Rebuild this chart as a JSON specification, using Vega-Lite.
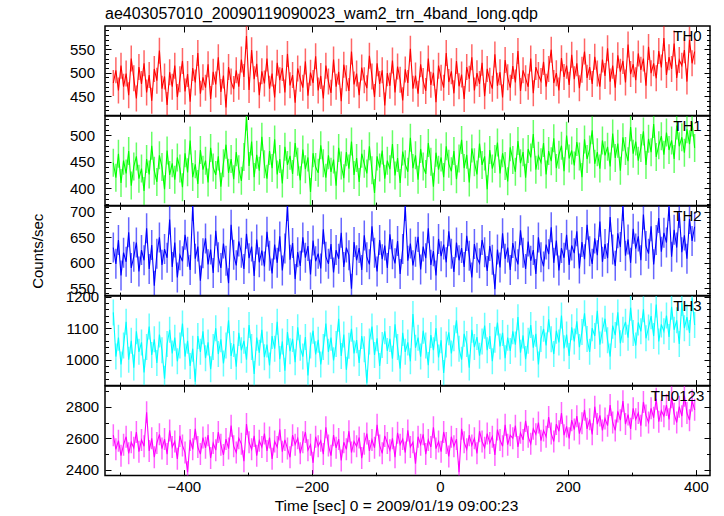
{
"$schema": "https://vega.github.io/schema/vega-lite/v6.json",
"background": "white",
"padding": {"left": 30, "top": 5, "right": 5, "bottom": 0},
"spacing": 0,
"bounds": "flush",
"data": {"values": [
{"t":-510,"a":478,"b":448,"c":630,"d":1150,"e":2620},
{"t":-506,"a":505,"b":420,"c":598,"d":1010,"e":2530},
{"t":-502,"a":462,"b":465,"c":645,"d":1070,"e":2585},
{"t":-498,"a":515,"b":410,"c":575,"d":985,"e":2490},
{"t":-494,"a":470,"b":452,"c":620,"d":1045,"e":2560},
{"t":-490,"a":498,"b":428,"c":602,"d":1120,"e":2610},
{"t":-486,"a":452,"b":470,"c":660,"d":1000,"e":2505},
{"t":-482,"a":530,"b":405,"c":590,"d":1060,"e":2575},
{"t":-478,"a":488,"b":441,"c":612,"d":975,"e":2540},
{"t":-474,"a":445,"b":460,"c":640,"d":1090,"e":2640},
{"t":-470,"a":512,"b":418,"c":583,"d":1025,"e":2515},
{"t":-466,"a":476,"b":437,"c":625,"d":1055,"e":2590},
{"t":-462,"a":520,"b":395,"c":605,"d":960,"e":2550},
{"t":-458,"a":458,"b":455,"c":668,"d":1040,"e":2765},
{"t":-454,"a":495,"b":426,"c":588,"d":1105,"e":2520},
{"t":-450,"a":440,"b":480,"c":635,"d":1015,"e":2600},
{"t":-446,"a":508,"b":433,"c":555,"d":1065,"e":2480},
{"t":-442,"a":483,"b":412,"c":618,"d":990,"e":2570},
{"t":-438,"a":547,"b":462,"c":650,"d":1080,"e":2625},
{"t":-434,"a":466,"b":440,"c":596,"d":1030,"e":2535},
{"t":-430,"a":492,"b":398,"c":627,"d":940,"e":2595},
{"t":-426,"a":431,"b":471,"c":610,"d":1050,"e":2500},
{"t":-422,"a":501,"b":425,"c":685,"d":1095,"e":2650},
{"t":-418,"a":470,"b":447,"c":592,"d":1020,"e":2545},
{"t":-414,"a":515,"b":416,"c":640,"d":1070,"e":2580},
{"t":-410,"a":448,"b":458,"c":571,"d":995,"e":2470},
{"t":-406,"a":486,"b":437,"c":615,"d":1045,"e":2615},
{"t":-402,"a":525,"b":402,"c":603,"d":1115,"e":2555},
{"t":-398,"a":460,"b":466,"c":655,"d":1010,"e":2510},
{"t":-394,"a":497,"b":430,"c":622,"d":1060,"e":2385},
{"t":-390,"a":438,"b":490,"c":586,"d":980,"e":2590},
{"t":-386,"a":510,"b":421,"c":712,"d":1035,"e":2530},
{"t":-382,"a":479,"b":445,"c":608,"d":930,"e":2660},
{"t":-378,"a":542,"b":408,"c":632,"d":1075,"e":2545},
{"t":-374,"a":455,"b":472,"c":565,"d":1025,"e":2500},
{"t":-370,"a":490,"b":435,"c":619,"d":1090,"e":2605},
{"t":-366,"a":468,"b":452,"c":648,"d":1005,"e":2540},
{"t":-362,"a":518,"b":411,"c":597,"d":1055,"e":2620},
{"t":-358,"a":444,"b":476,"c":626,"d":970,"e":2475},
{"t":-354,"a":502,"b":439,"c":580,"d":1040,"e":2570},
{"t":-350,"a":475,"b":425,"c":663,"d":1100,"e":2525},
{"t":-346,"a":533,"b":460,"c":611,"d":1018,"e":2640},
{"t":-342,"a":459,"b":403,"c":590,"d":1065,"e":2560},
{"t":-338,"a":494,"b":447,"c":638,"d":988,"e":2495},
{"t":-334,"a":426,"b":482,"c":604,"d":1045,"e":2595},
{"t":-330,"a":512,"b":429,"c":560,"d":1125,"e":2535},
{"t":-326,"a":481,"b":455,"c":675,"d":1012,"e":2680},
{"t":-322,"a":465,"b":417,"c":616,"d":1050,"e":2550},
{"t":-318,"a":505,"b":468,"c":595,"d":978,"e":2510},
{"t":-314,"a":470,"b":436,"c":642,"d":1085,"e":2600},
{"t":-310,"a":528,"b":414,"c":620,"d":1030,"e":2565},
{"t":-306,"a":491,"b":459,"c":588,"d":1060,"e":2455},
{"t":-302,"a":578,"b":535,"c":657,"d":1000,"e":2690},
{"t":-298,"a":463,"b":442,"c":609,"d":1110,"e":2575},
{"t":-294,"a":548,"b":488,"c":632,"d":1040,"e":2530},
{"t":-290,"a":486,"b":421,"c":574,"d":955,"e":2615},
{"t":-286,"a":519,"b":463,"c":646,"d":1070,"e":2490},
{"t":-282,"a":452,"b":433,"c":601,"d":1022,"e":2585},
{"t":-278,"a":503,"b":497,"c":624,"d":1095,"e":2545},
{"t":-274,"a":477,"b":445,"c":593,"d":1008,"e":2630},
{"t":-270,"a":530,"b":418,"c":661,"d":1048,"e":2520},
{"t":-266,"a":466,"b":470,"c":614,"d":982,"e":2605},
{"t":-262,"a":498,"b":438,"c":579,"d":1075,"e":2470},
{"t":-258,"a":447,"b":492,"c":636,"d":1035,"e":2580},
{"t":-254,"a":521,"b":426,"c":600,"d":1120,"e":2545},
{"t":-250,"a":484,"b":455,"c":652,"d":1002,"e":2655},
{"t":-246,"a":510,"b":409,"c":585,"d":1058,"e":2515},
{"t":-242,"a":458,"b":478,"c":628,"d":965,"e":2590},
{"t":-238,"a":540,"b":444,"c":712,"d":1088,"e":2535},
{"t":-234,"a":473,"b":461,"c":606,"d":1027,"e":2480},
{"t":-230,"a":495,"b":427,"c":639,"d":1066,"e":2620},
{"t":-226,"a":436,"b":485,"c":568,"d":992,"e":2560},
{"t":-222,"a":509,"b":450,"c":621,"d":1103,"e":2600},
{"t":-218,"a":487,"b":415,"c":594,"d":1038,"e":2505},
{"t":-214,"a":468,"b":473,"c":650,"d":1010,"e":2575},
{"t":-210,"a":524,"b":436,"c":610,"d":1072,"e":2640},
{"t":-206,"a":451,"b":458,"c":633,"d":950,"e":2525},
{"t":-202,"a":500,"b":393,"c":577,"d":1045,"e":2560},
{"t":-198,"a":478,"b":466,"c":644,"d":1092,"e":2445},
{"t":-194,"a":535,"b":440,"c":603,"d":1017,"e":2610},
{"t":-190,"a":462,"b":429,"c":618,"d":1063,"e":2550},
{"t":-186,"a":493,"b":481,"c":589,"d":985,"e":2585},
{"t":-182,"a":445,"b":447,"c":666,"d":1040,"e":2500},
{"t":-178,"a":515,"b":420,"c":612,"d":1115,"e":2670},
{"t":-174,"a":481,"b":462,"c":598,"d":1025,"e":2555},
{"t":-170,"a":457,"b":431,"c":637,"d":1070,"e":2490},
{"t":-166,"a":528,"b":454,"c":581,"d":998,"e":2620},
{"t":-162,"a":470,"b":405,"c":625,"d":1050,"e":2540},
{"t":-158,"a":502,"b":476,"c":608,"d":1130,"e":2595},
{"t":-154,"a":439,"b":443,"c":659,"d":1012,"e":2460},
{"t":-150,"a":517,"b":419,"c":592,"d":1080,"e":2575},
{"t":-146,"a":488,"b":468,"c":630,"d":968,"e":2530},
{"t":-142,"a":461,"b":437,"c":615,"d":1044,"e":2645},
{"t":-138,"a":545,"b":488,"c":549,"d":1098,"e":2510},
{"t":-134,"a":475,"b":425,"c":641,"d":1020,"e":2580},
{"t":-130,"a":498,"b":457,"c":605,"d":1062,"e":2550},
{"t":-126,"a":452,"b":412,"c":629,"d":990,"e":2605},
{"t":-122,"a":511,"b":465,"c":586,"d":1075,"e":2475},
{"t":-118,"a":484,"b":446,"c":654,"d":1033,"e":2565},
{"t":-114,"a":467,"b":428,"c":611,"d":927,"e":2630},
{"t":-110,"a":536,"b":479,"c":597,"d":1058,"e":2520},
{"t":-106,"a":492,"b":434,"c":672,"d":1105,"e":2590},
{"t":-102,"a":448,"b":391,"c":620,"d":1015,"e":2540},
{"t":-98,"a":520,"b":460,"c":583,"d":1068,"e":2685},
{"t":-94,"a":476,"b":439,"c":645,"d":980,"e":2555},
{"t":-90,"a":505,"b":471,"c":607,"d":1047,"e":2505},
{"t":-86,"a":430,"b":418,"c":634,"d":1090,"e":2615},
{"t":-82,"a":499,"b":452,"c":590,"d":1028,"e":2570},
{"t":-78,"a":472,"b":436,"c":656,"d":1066,"e":2525},
{"t":-74,"a":526,"b":483,"c":617,"d":1003,"e":2600},
{"t":-70,"a":458,"b":424,"c":599,"d":1112,"e":2480},
{"t":-66,"a":513,"b":457,"c":643,"d":1040,"e":2635},
{"t":-62,"a":485,"b":410,"c":578,"d":972,"e":2560},
{"t":-58,"a":441,"b":469,"c":627,"d":1085,"e":2595},
{"t":-54,"a":507,"b":445,"c":712,"d":1025,"e":2510},
{"t":-50,"a":478,"b":431,"c":604,"d":1055,"e":2650},
{"t":-46,"a":551,"b":495,"c":638,"d":995,"e":2545},
{"t":-42,"a":466,"b":438,"c":595,"d":1145,"e":2575},
{"t":-38,"a":494,"b":462,"c":622,"d":1038,"e":2440},
{"t":-34,"a":455,"b":416,"c":651,"d":1070,"e":2610},
{"t":-30,"a":518,"b":474,"c":587,"d":1010,"e":2560},
{"t":-26,"a":482,"b":441,"c":632,"d":1092,"e":2625},
{"t":-22,"a":461,"b":427,"c":609,"d":1045,"e":2500},
{"t":-18,"a":530,"b":485,"c":668,"d":983,"e":2590},
{"t":-14,"a":474,"b":450,"c":596,"d":1078,"e":2545},
{"t":-10,"a":500,"b":403,"c":623,"d":1030,"e":2670},
{"t":-6,"a":437,"b":467,"c":575,"d":1100,"e":2535},
{"t":-2,"a":515,"b":435,"c":647,"d":1007,"e":2580},
{"t":2,"a":489,"b":458,"c":613,"d":1062,"e":2515},
{"t":6,"a":468,"b":421,"c":636,"d":958,"e":2640},
{"t":10,"a":542,"b":479,"c":601,"d":1048,"e":2570},
{"t":14,"a":480,"b":446,"c":662,"d":1087,"e":2485},
{"t":18,"a":503,"b":432,"c":618,"d":1020,"e":2610},
{"t":22,"a":456,"b":470,"c":582,"d":1068,"e":2550},
{"t":26,"a":525,"b":417,"c":640,"d":1125,"e":2595},
{"t":30,"a":471,"b":456,"c":605,"d":1035,"e":2385},
{"t":34,"a":496,"b":491,"c":629,"d":1000,"e":2660},
{"t":38,"a":444,"b":438,"c":592,"d":1082,"e":2575},
{"t":42,"a":512,"b":463,"c":653,"d":1050,"e":2530},
{"t":46,"a":487,"b":411,"c":614,"d":975,"e":2620},
{"t":50,"a":533,"b":475,"c":571,"d":1095,"e":2555},
{"t":54,"a":462,"b":449,"c":637,"d":1040,"e":2600},
{"t":58,"a":499,"b":426,"c":610,"d":1072,"e":2505},
{"t":62,"a":476,"b":484,"c":599,"d":1013,"e":2645},
{"t":66,"a":521,"b":444,"c":645,"d":1058,"e":2580},
{"t":70,"a":450,"b":460,"c":621,"d":1108,"e":2540},
{"t":74,"a":508,"b":398,"c":584,"d":1030,"e":2630},
{"t":78,"a":483,"b":472,"c":633,"d":1075,"e":2570},
{"t":82,"a":466,"b":437,"c":606,"d":995,"e":2610},
{"t":86,"a":539,"b":455,"c":548,"d":1063,"e":2495},
{"t":90,"a":472,"b":486,"c":626,"d":1118,"e":2655},
{"t":94,"a":501,"b":428,"c":591,"d":1042,"e":2590},
{"t":98,"a":447,"b":466,"c":658,"d":1085,"e":2550},
{"t":102,"a":527,"b":442,"c":608,"d":1005,"e":2685},
{"t":106,"a":490,"b":413,"c":630,"d":1070,"e":2560},
{"t":110,"a":468,"b":477,"c":586,"d":1028,"e":2620},
{"t":114,"a":514,"b":453,"c":639,"d":1090,"e":2600},
{"t":118,"a":479,"b":431,"c":613,"d":1048,"e":2680},
{"t":122,"a":546,"b":489,"c":597,"d":1135,"e":2545},
{"t":126,"a":461,"b":447,"c":664,"d":1022,"e":2635},
{"t":130,"a":505,"b":468,"c":620,"d":1077,"e":2590},
{"t":134,"a":488,"b":420,"c":588,"d":1002,"e":2710},
{"t":138,"a":470,"b":474,"c":642,"d":1060,"e":2610},
{"t":142,"a":530,"b":458,"c":604,"d":1110,"e":2565},
{"t":146,"a":456,"b":502,"c":625,"d":1038,"e":2660},
{"t":150,"a":512,"b":435,"c":578,"d":1082,"e":2625},
{"t":154,"a":495,"b":461,"c":650,"d":985,"e":2700},
{"t":158,"a":482,"b":449,"c":611,"d":1066,"e":2585},
{"t":162,"a":523,"b":485,"c":593,"d":1098,"e":2650},
{"t":166,"a":470,"b":426,"c":636,"d":1045,"e":2610},
{"t":170,"a":508,"b":470,"c":617,"d":1128,"e":2735},
{"t":174,"a":549,"b":451,"c":670,"d":1065,"e":2630},
{"t":178,"a":478,"b":494,"c":600,"d":1018,"e":2580},
{"t":182,"a":499,"b":438,"c":644,"d":1092,"e":2690},
{"t":186,"a":462,"b":463,"c":585,"d":1055,"e":2645},
{"t":190,"a":531,"b":480,"c":629,"d":1140,"e":2760},
{"t":194,"a":491,"b":432,"c":610,"d":1036,"e":2620},
{"t":198,"a":515,"b":499,"c":655,"d":1080,"e":2675},
{"t":202,"a":474,"b":456,"c":596,"d":1012,"e":2600},
{"t":206,"a":538,"b":471,"c":634,"d":1103,"e":2715},
{"t":210,"a":486,"b":443,"c":619,"d":1058,"e":2655},
{"t":214,"a":520,"b":487,"c":662,"d":1122,"e":2740},
{"t":218,"a":467,"b":460,"c":589,"d":1040,"e":2630},
{"t":222,"a":506,"b":421,"c":641,"d":1088,"e":2695},
{"t":226,"a":545,"b":492,"c":607,"d":1147,"e":2780},
{"t":230,"a":489,"b":455,"c":675,"d":1066,"e":2660},
{"t":234,"a":512,"b":473,"c":623,"d":1025,"e":2720},
{"t":238,"a":476,"b":509,"c":598,"d":1100,"e":2625},
{"t":242,"a":534,"b":446,"c":648,"d":1075,"e":2800},
{"t":246,"a":498,"b":468,"c":615,"d":1155,"e":2690},
{"t":250,"a":470,"b":437,"c":681,"d":1048,"e":2745},
{"t":254,"a":528,"b":490,"c":602,"d":1093,"e":2650},
{"t":258,"a":493,"b":462,"c":637,"d":1130,"e":2725},
{"t":262,"a":552,"b":478,"c":609,"d":1062,"e":2680},
{"t":266,"a":481,"b":441,"c":690,"d":1010,"e":2810},
{"t":270,"a":515,"b":503,"c":626,"d":1108,"e":2700},
{"t":274,"a":468,"b":457,"c":594,"d":1078,"e":2650},
{"t":278,"a":537,"b":484,"c":658,"d":1150,"e":2770},
{"t":282,"a":502,"b":433,"c":631,"d":1052,"e":2715},
{"t":286,"a":525,"b":496,"c":712,"d":1095,"e":2835},
{"t":290,"a":479,"b":470,"c":614,"d":1120,"e":2690},
{"t":294,"a":560,"b":451,"c":646,"d":1070,"e":2750},
{"t":298,"a":497,"b":515,"c":600,"d":1165,"e":2660},
{"t":302,"a":518,"b":465,"c":667,"d":1085,"e":2790},
{"t":306,"a":484,"b":488,"c":628,"d":1045,"e":2720},
{"t":310,"a":541,"b":452,"c":652,"d":1118,"e":2760},
{"t":314,"a":506,"b":476,"c":605,"d":1090,"e":2680},
{"t":318,"a":530,"b":507,"c":695,"d":1160,"e":2830},
{"t":322,"a":472,"b":444,"c":633,"d":1068,"e":2745},
{"t":326,"a":555,"b":493,"c":618,"d":1102,"e":2700},
{"t":330,"a":499,"b":468,"c":672,"d":1138,"e":2790},
{"t":334,"a":520,"b":521,"c":597,"d":1075,"e":2730},
{"t":338,"a":488,"b":459,"c":645,"d":1175,"e":2850},
{"t":342,"a":546,"b":481,"c":688,"d":1058,"e":2705},
{"t":346,"a":511,"b":498,"c":622,"d":1112,"e":2775},
{"t":350,"a":574,"b":463,"c":659,"d":1090,"e":2740},
{"t":354,"a":495,"b":505,"c":640,"d":1140,"e":2810},
{"t":358,"a":533,"b":472,"c":712,"d":1072,"e":2720},
{"t":362,"a":508,"b":490,"c":612,"d":1168,"e":2860},
{"t":366,"a":562,"b":455,"c":665,"d":1095,"e":2755},
{"t":370,"a":489,"b":518,"c":630,"d":1125,"e":2700},
{"t":374,"a":527,"b":479,"c":698,"d":1050,"e":2800},
{"t":378,"a":515,"b":496,"c":621,"d":1180,"e":2740},
{"t":382,"a":548,"b":467,"c":654,"d":1100,"e":2870},
{"t":386,"a":481,"b":511,"c":608,"d":1135,"e":2760},
{"t":390,"a":570,"b":483,"c":686,"d":1085,"e":2715},
{"t":394,"a":520,"b":524,"c":643,"d":1195,"e":2840},
{"t":398,"a":545,"b":476,"c":671,"d":1110,"e":2780}
]},
"vconcat": [
{
 "width": 605, "height": 89.6,
 "title": {"text": "ae403057010_20090119090023_wam2_trn_4band_long.qdp", "anchor": "start", "frame": "group", "font": "Liberation Sans", "fontSize": 16, "fontWeight": "normal", "color": "black", "baseline": "alphabetic", "offset": -12},
 "layer": [
  {"mark": {"type": "tick", "orient": "vertical", "size": 26, "thickness": 1.5, "color": "#ff0000", "opacity": 0.6, "clip": true},
   "encoding": {"x": {"field": "t", "type": "quantitative", "axis": null}, "y": {"field": "a", "type": "quantitative", "axis": null}}},
  {"mark": {"type": "line", "color": "#ff0000", "strokeWidth": 1.1, "clip": true},
   "encoding": {
    "x": {"field": "t", "type": "quantitative", "scale": {"domain": [-523, 422], "nice": false, "zero": false},
          "axis": {"orient": "bottom", "values": [-500,-400,-300,-200,-100,0,100,200,300,400], "labels": false, "title": null, "tickSize": {"condition": {"test": "datum.value % 200 === 0", "value": -6}, "value": -3.5}}},
    "y": {"field": "a", "type": "quantitative", "scale": {"domain": [408.5, 599.5], "nice": false, "zero": false},
          "axis": {"orient": "left", "values": [410,420,430,440,450,460,470,480,490,500,510,520,530,540,550,560,570,580,590], "format": "d", "labelExpr": "datum.value % 50 === 0 ? datum.label : ''", "labelAlign": "center", "labelPadding": 29, "title": null, "tickSize": {"condition": {"test": "datum.value % 50 === 0", "value": -6}, "value": -3.5}}}
   }},
  {"data": {"values": [{"name": "TH0"}]},
   "mark": {"type": "text", "align": "right", "baseline": "alphabetic", "font": "Liberation Sans", "fontSize": 15, "color": "black"},
   "encoding": {
    "text": {"field": "name"},
    "x": {"datum": 409, "type": "quantitative", "axis": {"orient": "top", "values": [-500,-400,-300,-200,-100,0,100,200,300,400], "labels": false, "title": null, "tickSize": {"condition": {"test": "datum.value % 200 === 0", "value": -6}, "value": -3.5}}},
    "y": {"datum": 567, "type": "quantitative", "axis": {"orient": "right", "values": [410,420,430,440,450,460,470,480,490,500,510,520,530,540,550,560,570,580,590], "labels": false, "title": null, "tickSize": {"condition": {"test": "datum.value % 50 === 0", "value": -6}, "value": -3.5}}}
   }}
 ],
 "resolve": {"axis": {"x": "independent", "y": "independent"}}
},
{
 "width": 605, "height": 89.6,
 "layer": [
  {"mark": {"type": "tick", "orient": "vertical", "size": 28, "thickness": 1.5, "color": "#00ff00", "opacity": 0.6, "clip": true},
   "encoding": {"x": {"field": "t", "type": "quantitative", "axis": null}, "y": {"field": "b", "type": "quantitative", "axis": null}}},
  {"mark": {"type": "line", "color": "#00ff00", "strokeWidth": 1.1, "clip": true},
   "encoding": {
    "x": {"field": "t", "type": "quantitative", "scale": {"domain": [-523, 422], "nice": false, "zero": false},
          "axis": {"orient": "bottom", "values": [-500,-400,-300,-200,-100,0,100,200,300,400], "labels": false, "title": null, "tickSize": {"condition": {"test": "datum.value % 200 === 0", "value": -6}, "value": -3.5}}},
    "y": {"field": "b", "type": "quantitative", "scale": {"domain": [367.4, 536], "nice": false, "zero": false},
          "axis": {"orient": "left", "values": [370,380,390,400,410,420,430,440,450,460,470,480,490,500,510,520,530], "format": "d", "labelExpr": "datum.value % 50 === 0 ? datum.label : ''", "labelAlign": "center", "labelPadding": 29, "title": null, "tickSize": {"condition": {"test": "datum.value % 50 === 0", "value": -6}, "value": -3.5}}}
   }},
  {"data": {"values": [{"name": "TH1"}]},
   "mark": {"type": "text", "align": "right", "baseline": "alphabetic", "font": "Liberation Sans", "fontSize": 15, "color": "black"},
   "encoding": {
    "text": {"field": "name"},
    "x": {"datum": 409, "type": "quantitative", "axis": {"orient": "top", "values": [-500,-400,-300,-200,-100,0,100,200,300,400], "labels": false, "title": null, "tickSize": {"condition": {"test": "datum.value % 200 === 0", "value": -6}, "value": -3.5}}},
    "y": {"datum": 507, "type": "quantitative", "axis": {"orient": "right", "values": [370,380,390,400,410,420,430,440,450,460,470,480,490,500,510,520,530], "labels": false, "title": null, "tickSize": {"condition": {"test": "datum.value % 50 === 0", "value": -6}, "value": -3.5}}}
   }}
 ],
 "resolve": {"axis": {"x": "independent", "y": "independent"}}
},
{
 "width": 605, "height": 89.6,
 "layer": [
  {"mark": {"type": "tick", "orient": "vertical", "size": 30, "thickness": 1.5, "color": "#0000ff", "opacity": 0.6, "clip": true},
   "encoding": {"x": {"field": "t", "type": "quantitative", "axis": null}, "y": {"field": "c", "type": "quantitative", "axis": null}}},
  {"mark": {"type": "line", "color": "#0000ff", "strokeWidth": 1.1, "clip": true},
   "encoding": {
    "x": {"field": "t", "type": "quantitative", "scale": {"domain": [-523, 422], "nice": false, "zero": false},
          "axis": {"orient": "bottom", "values": [-500,-400,-300,-200,-100,0,100,200,300,400], "labels": false, "title": null, "tickSize": {"condition": {"test": "datum.value % 200 === 0", "value": -6}, "value": -3.5}}},
    "y": {"field": "c", "type": "quantitative", "scale": {"domain": [535.5, 711.8], "nice": false, "zero": false},
          "axis": {"orient": "left", "values": [540,550,560,570,580,590,600,610,620,630,640,650,660,670,680,690,700,710], "format": "d", "labelExpr": "datum.value % 50 === 0 ? datum.label : ''", "labelAlign": "center", "labelPadding": 29, "title": "Counts/sec", "titleFont": "Liberation Sans", "titleFontSize": 15, "titleFontWeight": "normal", "titleColor": "black", "titlePadding": 23.7, "tickSize": {"condition": {"test": "datum.value % 50 === 0", "value": -6}, "value": -3.5}}}
   }},
  {"data": {"values": [{"name": "TH2"}]},
   "mark": {"type": "text", "align": "right", "baseline": "alphabetic", "font": "Liberation Sans", "fontSize": 15, "color": "black"},
   "encoding": {
    "text": {"field": "name"},
    "x": {"datum": 409, "type": "quantitative", "axis": {"orient": "top", "values": [-500,-400,-300,-200,-100,0,100,200,300,400], "labels": false, "title": null, "tickSize": {"condition": {"test": "datum.value % 200 === 0", "value": -6}, "value": -3.5}}},
    "y": {"datum": 681.5, "type": "quantitative", "axis": {"orient": "right", "values": [540,550,560,570,580,590,600,610,620,630,640,650,660,670,680,690,700,710], "labels": false, "title": null, "tickSize": {"condition": {"test": "datum.value % 50 === 0", "value": -6}, "value": -3.5}}}
   }}
 ],
 "resolve": {"axis": {"x": "independent", "y": "independent"}}
},
{
 "width": 605, "height": 89.6,
 "layer": [
  {"mark": {"type": "tick", "orient": "vertical", "size": 26, "thickness": 1.5, "color": "#00ffff", "opacity": 0.6, "clip": true},
   "encoding": {"x": {"field": "t", "type": "quantitative", "axis": null}, "y": {"field": "d", "type": "quantitative", "axis": null}}},
  {"mark": {"type": "line", "color": "#00ffff", "strokeWidth": 1.1, "clip": true},
   "encoding": {
    "x": {"field": "t", "type": "quantitative", "scale": {"domain": [-523, 422], "nice": false, "zero": false},
          "axis": {"orient": "bottom", "values": [-500,-400,-300,-200,-100,0,100,200,300,400], "labels": false, "title": null, "tickSize": {"condition": {"test": "datum.value % 200 === 0", "value": -6}, "value": -3.5}}},
    "y": {"field": "d", "type": "quantitative", "scale": {"domain": [918, 1202], "nice": false, "zero": false},
          "axis": {"orient": "left", "values": [920,940,960,980,1000,1020,1040,1060,1080,1100,1120,1140,1160,1180,1200], "format": "d", "labelExpr": "datum.value % 100 === 0 ? datum.label : ''", "labelAlign": "center", "labelPadding": 29, "title": null, "tickSize": {"condition": {"test": "datum.value % 100 === 0", "value": -6}, "value": -3.5}}}
   }},
  {"data": {"values": [{"name": "TH3"}]},
   "mark": {"type": "text", "align": "right", "baseline": "alphabetic", "font": "Liberation Sans", "fontSize": 15, "color": "black"},
   "encoding": {
    "text": {"field": "name"},
    "x": {"datum": 409, "type": "quantitative", "axis": {"orient": "top", "values": [-500,-400,-300,-200,-100,0,100,200,300,400], "labels": false, "title": null, "tickSize": {"condition": {"test": "datum.value % 200 === 0", "value": -6}, "value": -3.5}}},
    "y": {"datum": 1153, "type": "quantitative", "axis": {"orient": "right", "values": [920,940,960,980,1000,1020,1040,1060,1080,1100,1120,1140,1160,1180,1200], "labels": false, "title": null, "tickSize": {"condition": {"test": "datum.value % 100 === 0", "value": -6}, "value": -3.5}}}
   }}
 ],
 "resolve": {"axis": {"x": "independent", "y": "independent"}}
},
{
 "width": 605, "height": 89.6,
 "layer": [
  {"mark": {"type": "tick", "orient": "vertical", "size": 22, "thickness": 1.5, "color": "#ff00ff", "opacity": 0.6, "clip": true},
   "encoding": {"x": {"field": "t", "type": "quantitative", "axis": null}, "y": {"field": "e", "type": "quantitative", "axis": null}}},
  {"mark": {"type": "line", "color": "#ff00ff", "strokeWidth": 1.1, "clip": true},
   "encoding": {
    "x": {"field": "t", "type": "quantitative", "scale": {"domain": [-523, 422], "nice": false, "zero": false},
          "axis": {"orient": "bottom", "values": [-500,-400,-300,-200,-100,0,100,200,300,400], "labelExpr": "datum.value % 200 === 0 ? datum.label : ''", "labelPadding": 10, "labelOverlap": false, "labelFlush": false, "title": "Time [sec] 0 = 2009/01/19 09:00:23", "titleFont": "Liberation Sans", "titleFontSize": 15.5, "titleFontWeight": "normal", "titleColor": "black", "titlePadding": 1, "titleX": 291, "titleAlign": "center", "tickSize": {"condition": {"test": "datum.value % 200 === 0", "value": -6}, "value": -3.5}}},
    "y": {"field": "e", "type": "quantitative", "scale": {"domain": [2364, 2931], "nice": false, "zero": false},
          "axis": {"orient": "left", "values": [2400,2500,2600,2700,2800,2900], "format": "d", "labelExpr": "datum.value % 200 === 0 ? datum.label : ''", "labelAlign": "center", "labelPadding": 29, "title": null, "tickSize": {"condition": {"test": "datum.value % 200 === 0", "value": -6}, "value": -3.5}}}
   }},
  {"data": {"values": [{"name": "TH0123"}]},
   "mark": {"type": "text", "align": "right", "baseline": "alphabetic", "font": "Liberation Sans", "fontSize": 15, "color": "black"},
   "encoding": {
    "text": {"field": "name"},
    "x": {"datum": 413, "type": "quantitative", "axis": {"orient": "top", "values": [-500,-400,-300,-200,-100,0,100,200,300,400], "labels": false, "title": null, "tickSize": {"condition": {"test": "datum.value % 200 === 0", "value": -6}, "value": -3.5}}},
    "y": {"datum": 2833, "type": "quantitative", "axis": {"orient": "right", "values": [2400,2500,2600,2700,2800,2900], "labels": false, "title": null, "tickSize": {"condition": {"test": "datum.value % 200 === 0", "value": -6}, "value": -3.5}}}
   }}
 ],
 "resolve": {"axis": {"x": "independent", "y": "independent"}}
}
],
"config": {
 "font": "Liberation Sans",
 "view": {"stroke": "black", "strokeWidth": 1.5},
 "axis": {"domain": false, "grid": false, "labelFont": "Liberation Sans", "labelFontSize": 15, "labelColor": "black", "tickColor": "black", "tickWidth": 1, "labelFlush": false, "labelOverlap": false, "labelBound": false},
 "title": {"color": "black"}
}
}
